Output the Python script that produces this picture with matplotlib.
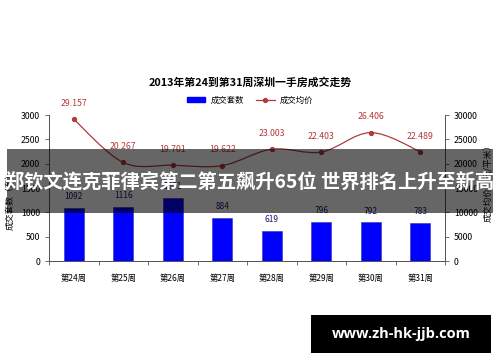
import matplotlib
matplotlib.use("Agg")
import matplotlib.pyplot as plt
from matplotlib.patches import Rectangle, PathPatch, Patch
from matplotlib.lines import Line2D
from matplotlib.path import Path
import numpy as np

plt.rcParams["font.family"] = ["Noto Sans CJK SC", "DejaVu Sans"]

weeks = ["第24周", "第25周", "第26周", "第27周", "第28周", "第29周", "第30周", "第31周"]
units = [1092, 1116, 1301, 884, 619, 796, 792, 783]
prices = [29157, 20267, 19701, 19622, 23003, 22403, 26406, 22489]
price_labels = ["29.157", "20.267", "19.701", "19.622", "23.003", "22.403", "26.406", "22.489"]

BAR_C = "#0000ff"
LINE_C = "#b23a3a"


def smooth_path(xs, ys):
    # Catmull-Rom style bezier through the points (like Excel's smoothed line)
    pts = list(zip(xs, ys))
    verts = [pts[0]]
    codes = [Path.MOVETO]
    n = len(pts)
    for i in range(n - 1):
        p0 = pts[i - 1] if i > 0 else pts[i]
        p1, p2 = pts[i], pts[i + 1]
        p3 = pts[i + 2] if i + 2 < n else pts[i + 1]
        c1 = (p1[0] + (p2[0] - p0[0]) / 6, p1[1] + (p2[1] - p0[1]) / 6)
        c2 = (p2[0] - (p3[0] - p1[0]) / 6, p2[1] - (p3[1] - p1[1]) / 6)
        verts += [c1, c2, p2]
        codes += [Path.CURVE4] * 3
    return Path(verts, codes)


fig = plt.figure(figsize=(5, 3.62), dpi=100)
ax = fig.add_axes([0.098, 0.279, 0.792, 0.403])
ax2 = ax.twinx()

x = np.arange(len(weeks))
ax.bar(x, units, width=0.4, color=BAR_C, edgecolor="#3030a0", linewidth=0.4, zorder=2)
for xi, v in zip(x, units):
    ax.annotate(str(v), (xi, v), xytext=(0, 5), textcoords="offset points",
                ha="center", va="bottom", fontsize=6, color="#1c1c70")

ax2.add_patch(PathPatch(smooth_path(x, prices), fill=False, edgecolor=LINE_C, linewidth=0.9))
ax2.plot(x, prices, linestyle="none", marker="o", markersize=2.8, color=LINE_C)
for xi, v, lab in zip(x, prices, price_labels):
    ax2.annotate(lab, (xi, v), xytext=(0, 8), textcoords="offset points",
                 ha="center", va="bottom", fontsize=6.3, color=LINE_C)

ax.set_xlim(-0.5, len(weeks) - 0.5)
ax.set_ylim(0, 3000)
ax2.set_ylim(0, 30000)
ax.set_yticks(range(0, 3001, 500))
ax2.set_yticks(range(0, 30001, 5000))
ax.set_xticks(x)
ax.set_xticklabels(weeks, fontsize=6)
ax.set_xticks(np.arange(-0.5, len(weeks)), minor=True)
ax.tick_params(axis="x", which="major", length=0, pad=9)
ax.tick_params(axis="x", which="minor", length=3, width=0.6, color="#555555")
ax.tick_params(axis="y", labelsize=6.3, length=3, width=0.6, color="#555555")
ax2.tick_params(axis="y", labelsize=6.3, length=3, width=0.6, color="#555555")

for a in (ax, ax2):
    a.spines["top"].set_visible(False)
    for s in ("left", "right", "bottom"):
        a.spines[s].set_color("#555555")
        a.spines[s].set_linewidth(0.7)

fig.text(0.02, 0.45, "成交套数（套）", rotation=90, ha="center", va="center", fontsize=6.3)
fig.text(0.975, 0.50, "成交均价（元/平米）", rotation=90, ha="center", va="center", fontsize=6.3)

fig.text(0.5, 0.771, "2013年第24到第31周深圳一手房成交走势", ha="center", va="center",
         fontsize=7.8, fontweight="bold")

handles = [Patch(facecolor=BAR_C, edgecolor=BAR_C),
           Line2D([], [], color=LINE_C, marker="o", markersize=2.8, linewidth=0.9)]
fig.legend(handles, ["成交套数", "成交均价"], loc="center", bbox_to_anchor=(0.5, 0.724),
           ncol=2, frameon=False, fontsize=6, handlelength=2.2, handleheight=0.5,
           columnspacing=1.5, handletextpad=0.6)

# overlay banner and watermark box
fig.patches.append(Rectangle((0.014, 1 - 213 / 362), 0.972, 64 / 362, transform=fig.transFigure,
                             facecolor="black", alpha=0.6, edgecolor="none", zorder=5))
fig.text(0.5, 1 - 183 / 362, "郑钦文连克菲律宾第二第五飙升65位 世界排名上升至新高",
         ha="center", va="center", fontsize=13.9, fontweight="bold", color="white", zorder=6)
fig.patches.append(Rectangle((311 / 500, 1 - 353 / 362), 180 / 500, 38 / 362,
                             transform=fig.transFigure, facecolor="black", edgecolor="none", zorder=5))
fig.text(401 / 500, 1 - 334 / 362, "www.zh-hk-jjb.com", ha="center", va="center",
         fontsize=10.5, fontweight="bold", color="white", family=["Open Sans", "DejaVu Sans"], zorder=6)

fig.savefig("out.png", dpi=100)
